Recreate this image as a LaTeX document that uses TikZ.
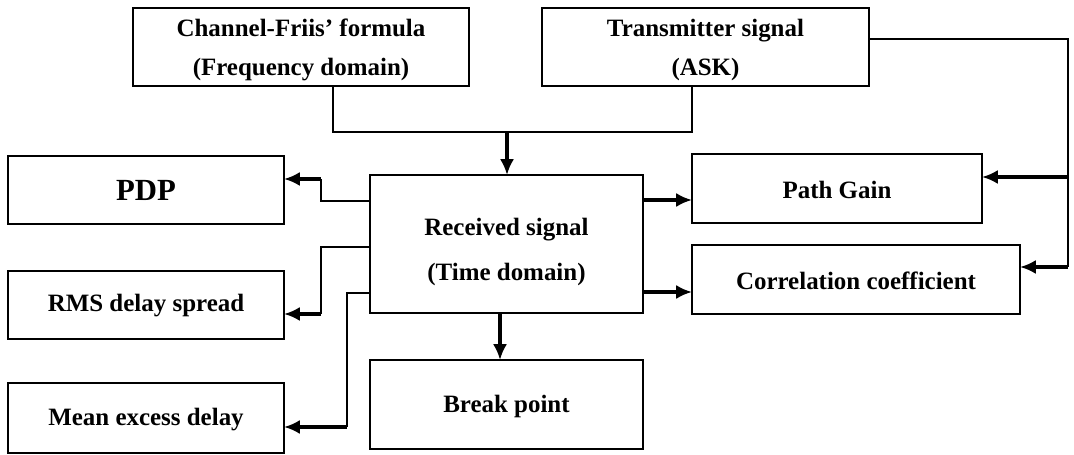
\documentclass[tikz,border=0pt]{standalone}
\usepackage{fontspec}
\setmainfont{Liberation Serif}
\usetikzlibrary{arrows.meta,calc}
\begin{document}
\begin{tikzpicture}[x=0.02cm,y=-0.02cm,
  box/.style={draw,line width=0.9pt,inner sep=0pt,outer sep=0pt,align=center,
    font=\bfseries\fontsize{14.2}{22.5}\selectfont},
  conn/.style={line width=0.75pt},
  arr/.style={line width=2pt,-{Latex[length=9pt,width=8pt]}}]
\useasboundingbox (0,0) rectangle (1074,455);
\node[box,minimum width=6.72cm,minimum height=1.56cm] (chan) at (301,47) {\rule{0pt}{13.5pt}Channel-Friis' formula\\(Frequency domain)};
\node[box,minimum width=6.54cm,minimum height=1.56cm] (tx) at (705.5,47) {\rule{0pt}{13.5pt}Transmitter signal\\(ASK)};
\node[box,minimum width=5.46cm,minimum height=2.76cm,font=\bfseries\fontsize{14.2}{25.5}\selectfont] (rx) at (506.5,244) {\rule{0pt}{19pt}Received signal\\(Time domain)};
\node[box,minimum width=5.46cm,minimum height=1.78cm] (bp) at (506.5,404.5) {\rule{0pt}{12pt}Break point};
\node[box,minimum width=5.8cm,minimum height=1.38cm] (pg) at (837,188.5) {\rule{0pt}{12pt}Path Gain};
\node[box,minimum width=6.56cm,minimum height=1.38cm] (cc) at (856,279.5) {\rule{0pt}{12pt}Correlation coefficient};
\node[box,minimum width=5.52cm,minimum height=1.36cm,font=\bfseries\fontsize{17.5}{20}\selectfont] (pdp) at (146,190) {PDP};
\node[box,minimum width=5.52cm,minimum height=1.36cm] (rms) at (146,305) {\rule{0pt}{11pt}RMS delay spread};
\node[box,minimum width=5.52cm,minimum height=1.4cm] (med) at (146,418) {\rule{0pt}{12pt}Mean excess delay};
% inputs to received signal
\coordinate (j) at (507,132);
\draw[conn] ($(chan.south west)+(200,0)$) |- (j) -| ($(tx.south west)+(150,0)$);
\draw[arr] (j) -- (j |- rx.north);
% received to left boxes
\coordinate (p1) at (321,179);
\coordinate (p2) at (321,314);
\coordinate (p3) at (347,427);
\draw[conn] (rx.west |- 0,201) -| (p1);
\draw[arr] (p1) -- (p1 -| pdp.east);
\draw[conn] (rx.west |- 0,247) -| (p2);
\draw[arr] (p2) -- (p2 -| rms.east);
\draw[conn] (rx.west |- 0,293) -| (p3);
\draw[arr] (p3) -- (p3 -| med.east);
% received to right boxes and break point
\draw[arr] (rx.east |- 0,200) -- (pg.west |- 0,200);
\draw[arr] (rx.east |- 0,292) -- (cc.west |- 0,292);
\draw[arr] (rx.south -| 500,0) -- (bp.north -| 500,0);
% transmitter to right boxes
\coordinate (t1) at (1068,177);
\coordinate (t2) at (1068,267);
\draw[conn] (tx.east |- 0,39) -| (t2);
\draw[arr] (t1) -- (t1 -| pg.east);
\draw[arr] (t2) -- (t2 -| cc.east);
\end{tikzpicture}
\end{document}
